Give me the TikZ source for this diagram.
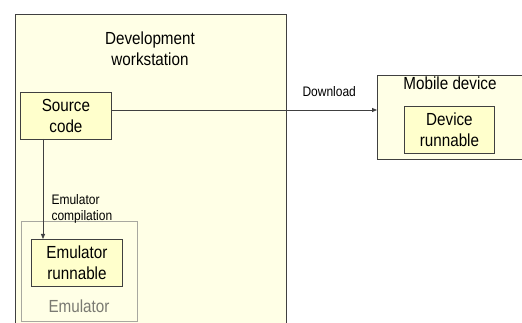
\documentclass[tikz,border=0pt]{standalone}
\usepackage{fontspec}
\setmainfont[FakeStretch=0.87]{Liberation Sans}
\usetikzlibrary{arrows.meta}
\definecolor{paleY}{HTML}{FFFFE6}
\definecolor{boxY}{HTML}{FFFFCC}
\definecolor{edge}{HTML}{404040}
\definecolor{grayedge}{HTML}{A8A8A0}
\definecolor{graytext}{HTML}{7A7A72}
\begin{document}
\begin{tikzpicture}[x=1pt,y=-1pt,
  bigfont/.style={font=\fontsize{17.5}{21}\selectfont},
  smallfont/.style={font=\fontsize{13.8}{16}\selectfont},
  region/.style={draw=edge,line width=1.2pt,fill=paleY,inner sep=0pt},
  itembox/.style={draw=edge,line width=0.9pt,fill=boxY,inner sep=0pt,align=center,bigfont},
  conn/.style={draw=edge,line width=0.8pt,-{Triangle[length=5pt,width=4pt]}}]
\useasboundingbox (0,0) rectangle (522,323);
\fill[white] (0,0) rectangle (522,323);
\begin{scope}
\clip (0,0) rectangle (522,323);
\node[region,minimum width=271pt,minimum height=330pt,anchor=north west] (dev) at (15,14) {};
\node[region,line width=1pt,minimum width=160pt,minimum height=84pt,anchor=north west] (mob) at (377,75) {};
\end{scope}
\node[bigfont,align=center,anchor=base] (devtitle) at (150,66) {Development\\workstation};
\node[itembox,minimum width=91pt,minimum height=47pt,anchor=north west] (src) at (20,92) {Source\\code};
\node[draw=grayedge,line width=1pt,fill=paleY,minimum width=116pt,minimum height=100pt,anchor=north west] (emu) at (21,221) {};
\node[itembox,minimum width=91pt,minimum height=47pt,anchor=north west] (emur) at (31,239) {Emulator\\runnable};
\node[bigfont,text=graytext,anchor=base] (emulabel) at (79,312) {Emulator};
\node[bigfont,anchor=base] (mobtitle) at (450,90) {Mobile device};
\node[itembox,minimum width=90pt,minimum height=47pt,anchor=north west] (devr) at (404,106) {Device\\runnable};
\coordinate (srcbot) at (43,139);
\coordinate (emutop) at (43,239);
\draw[conn] (srcbot) -- (emutop);
\draw[conn] (src.east |- 0,110) -- (mob.west |- 0,110);
\node[smallfont,anchor=base west] (dl) at (299,97) {Download};
\node[smallfont,align=left,anchor=north west] (ec) at (48,191) {Emulator\\compilation};
\end{tikzpicture}
\end{document}
